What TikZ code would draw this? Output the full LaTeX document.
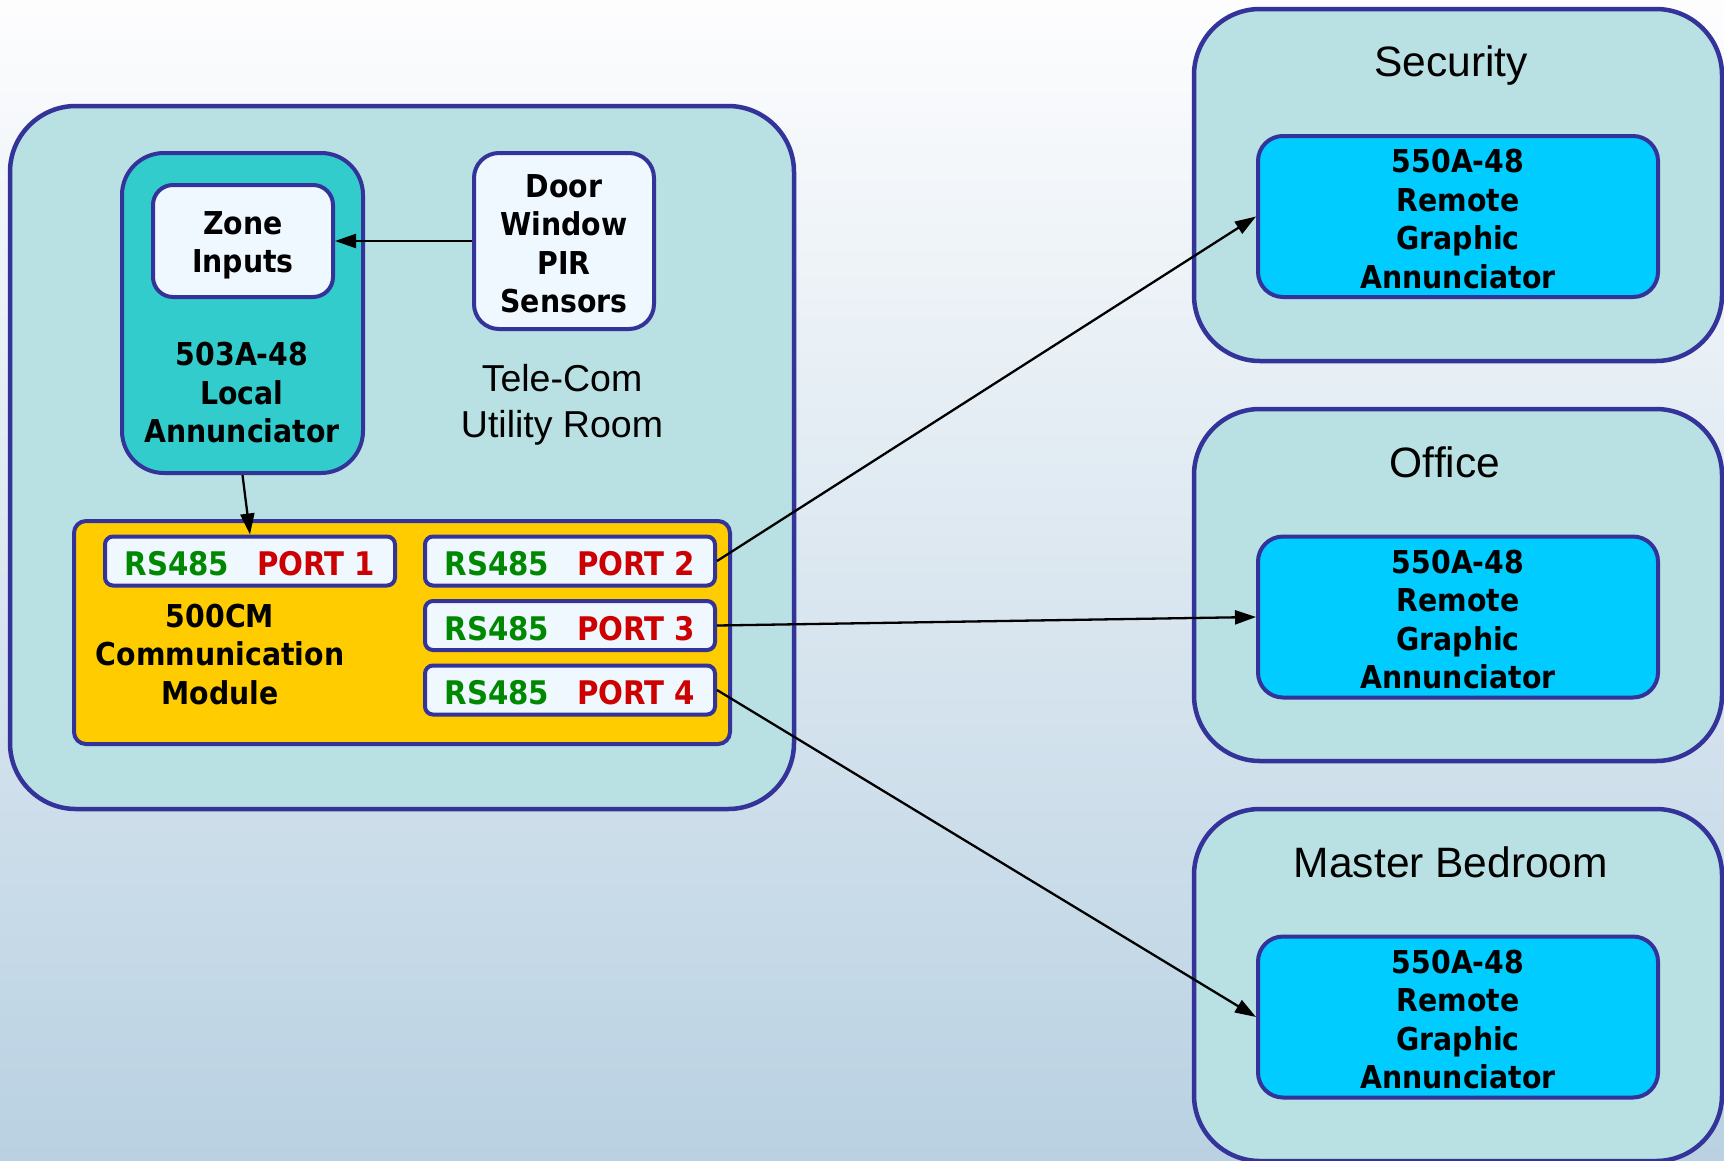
\documentclass[tikz,border=0pt]{standalone}
\usepackage{fontspec}
\setmainfont{Liberation Sans}
\newfontfamily\lblfont{DejaVu Sans}[FakeStretch=0.9]
\usetikzlibrary{arrows.meta}

\definecolor{bgtop}{HTML}{FDFDFE}
\definecolor{bgbot}{HTML}{B9D1E2}
\definecolor{roomfill}{HTML}{B9E0E2}
\definecolor{edge}{HTML}{333399}
\definecolor{tealfill}{HTML}{33CCCC}
\definecolor{palefill}{HTML}{F0F8FF}
\definecolor{modfill}{HTML}{FFCC00}
\definecolor{remfill}{HTML}{00CCFF}
\definecolor{rsgreen}{HTML}{008800}
\definecolor{portred}{HTML}{CC0000}

\begin{document}
\begin{tikzpicture}[x=1pt,y=-1pt,
  room/.style={draw=edge, line width=4.5pt, fill=roomfill, rounded corners=66pt, inner sep=0pt},
  box/.style={draw=edge, line width=4pt, inner sep=0pt, align=center},
  portbox/.style={box, fill=palefill, rounded corners=8pt, minimum width=290pt, minimum height=49pt},
  porttxt/.style={font=\lblfont\bfseries\fontsize{32.5}{38}\selectfont, inner sep=0pt},
  remote/.style={box, fill=remfill, rounded corners=25pt, minimum width=400pt, minimum height=161pt},
  bold/.style={font=\lblfont\bfseries\fontsize{31.5}{38.5}\selectfont, align=center, inner sep=0pt},
  title/.style={font=\fontsize{42.5}{46}\selectfont, align=center, inner sep=0pt},
  wire/.style={line width=2.3pt, -{Triangle[length=21pt,width=14pt]}}
]
\useasboundingbox (0,0) rectangle (1724,1160);
\shade[top color=bgtop, bottom color=bgbot] (0,0) rectangle (1724,1160);

% Tele-Com utility room
\node[room, minimum width=784pt, minimum height=703pt] (tele) at (402,457.5) {};
\node[title, font=\fontsize{37.5}{46}\selectfont] (teletitle) at (562,404.5) {Tele-Com\\Utility Room};

% Local annunciator with its zone inputs
\node[box, fill=tealfill, rounded corners=42pt, minimum width=241pt, minimum height=320pt] (local) at (242.5,313) {};
\node[bold] (localtxt) at (242,393) {503A-48\\Local\\Annunciator};
\node[box, fill=palefill, rounded corners=20pt, minimum width=180pt, minimum height=112pt] (zone) at (243,241) {};
\node[bold] (zonetxt) at (243,245.5) {Zone\\Inputs};

% Sensors
\node[box, fill=palefill, rounded corners=25pt, minimum width=180pt, minimum height=176pt] (door) at (564,241) {};
\node[bold] (doortxt) at (564,243.5) {Door\\Window\\PIR\\Sensors};

% Communication module and its ports
\node[box, fill=modfill, rounded corners=12pt, minimum width=656pt, minimum height=223pt] (cm) at (402,632.5) {};
\node[bold] (cmtxt) at (220,654.5) {500CM\\Communication\\Module};
\node[portbox] (p1) at (250,561) {};
\node[portbox] (p2) at (570,561) {};
\node[portbox] (p3) at (570,625.5) {};
\node[portbox] (p4) at (570,690) {};
\node[porttxt] (p1txt) at ([yshift=-3pt]p1.center) {\textcolor{rsgreen}{RS485}\hspace{28pt}\textcolor{portred}{PORT 1}};
\node[porttxt] (p2txt) at ([yshift=-3pt]p2.center) {\textcolor{rsgreen}{RS485}\hspace{28pt}\textcolor{portred}{PORT 2}};
\node[porttxt] (p3txt) at ([yshift=-3pt]p3.center) {\textcolor{rsgreen}{RS485}\hspace{28pt}\textcolor{portred}{PORT 3}};
\node[porttxt] (p4txt) at ([yshift=-3pt]p4.center) {\textcolor{rsgreen}{RS485}\hspace{28pt}\textcolor{portred}{PORT 4}};

% Remote rooms
\node[room, minimum width=528pt, minimum height=352pt] (sec) at (1458,185) {};
\node[title] (sectitle) at (1451,65.5) {Security};
\node[remote] (secr) at (1458,216.5) {};
\node[bold] (secrtxt) at (1458,219) {550A-48\\Remote\\Graphic\\Annunciator};

\node[room, minimum width=528pt, minimum height=352pt] (off) at (1458,585) {};
\node[title] (offtitle) at (1445,462) {Office};
\node[remote] (offr) at (1458,617) {};
\node[bold] (offrtxt) at (1458,619.5) {550A-48\\Remote\\Graphic\\Annunciator};

\node[room, minimum width=528pt, minimum height=352pt] (mas) at (1458,985) {};
\node[title] (mastitle) at (1451,862) {Master Bedroom};
\node[remote] (masr) at (1458,1017) {};
\node[bold] (masrtxt) at (1458,1019.5) {550A-48\\Remote\\Graphic\\Annunciator};

% Connections
\draw[wire] (door.west) -- (zone.east);
\draw[wire] (local.south) -- (p1.north);
\draw[wire] (p2.east) -- (secr.west);
\draw[wire] (p3.east) -- (offr.west);
\draw[wire] (p4.east) -- (masr.west);
\end{tikzpicture}
\end{document}
